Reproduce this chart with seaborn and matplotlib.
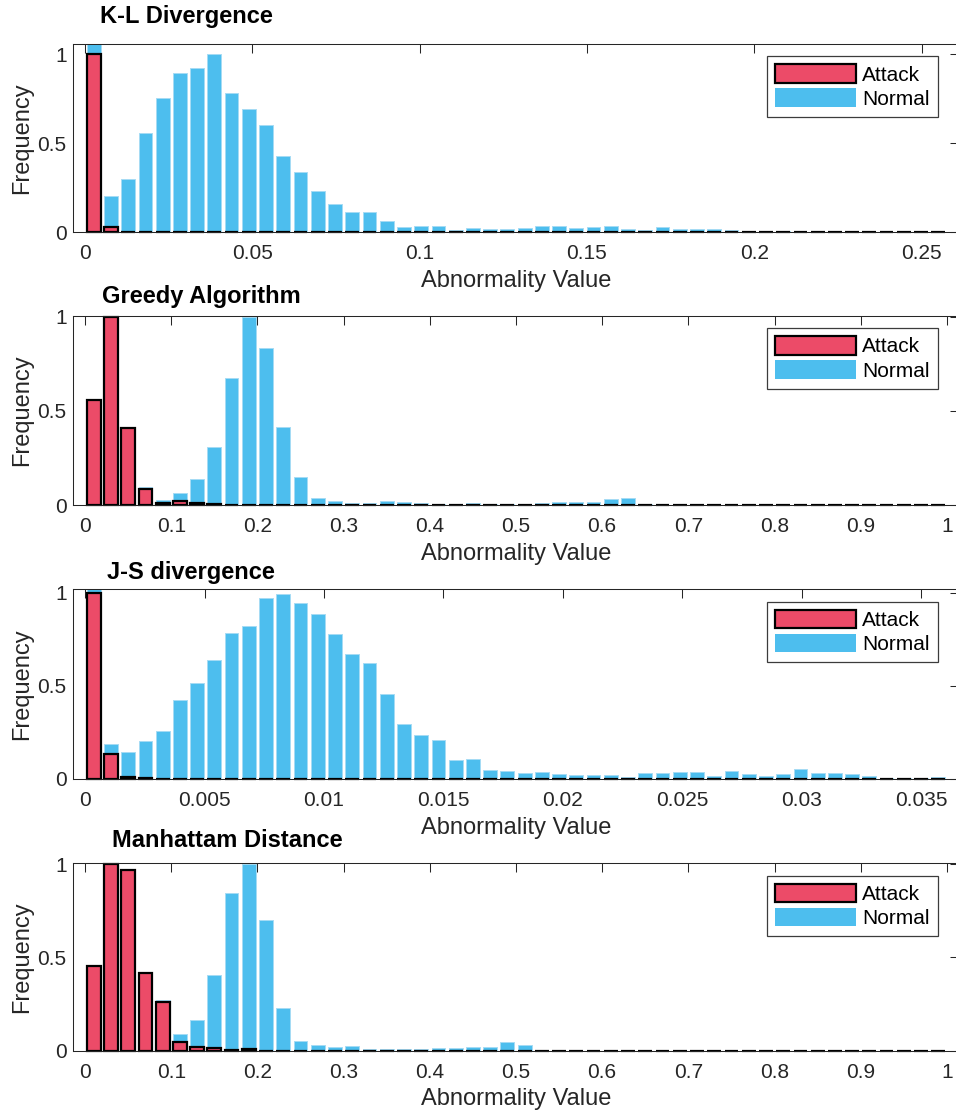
import numpy as np
import pandas as pd
import matplotlib
matplotlib.use("Agg")
import matplotlib.pyplot as plt
import seaborn as sns
from matplotlib.patches import Patch
from matplotlib.ticker import FuncFormatter, FixedLocator

# ---- histogram data (50 bins per panel, normalised frequency) ----
kl_span = 0.2576
kl_normal = [1.2, 0.205, 0.30, 0.556, 0.754, 0.897, 0.923, 1.0, 0.78, 0.69,
             0.603, 0.429, 0.335, 0.229, 0.156, 0.113, 0.111, 0.064, 0.03, 0.036,
             0.034, 0.011, 0.023, 0.017, 0.017, 0.024, 0.032, 0.036, 0.023, 0.026,
             0.034, 0.015, 0.009, 0.026, 0.015, 0.015, 0.015, 0.013, 0, 0,
             0.003, 0, 0, 0, 0, 0, 0, 0, 0, 0]
kl_attack = [1.0, 0.028] + [0] * 48

greedy_span = 1.0
greedy_normal = [0, 0, 0, 0.095, 0.028, 0.064, 0.138, 0.311, 0.675, 1.0,
                 0.834, 0.417, 0.152, 0.037, 0.021, 0.014, 0.012, 0.023, 0.016, 0.012,
                 0.005, 0.004, 0.01, 0.005, 0.005, 0.004, 0.01, 0.018, 0.018, 0.016,
                 0.034, 0.039, 0.005] + [0] * 17
greedy_attack = [0.557, 1.0, 0.41, 0.087, 0.014, 0.021, 0.012, 0.005] + [0] * 42

js_span = 0.03607
js_normal = [1.1, 0.19, 0.145, 0.204, 0.256, 0.423, 0.514, 0.636, 0.783, 0.823,
             0.973, 0.995, 0.946, 0.887, 0.78, 0.672, 0.625, 0.455, 0.297, 0.237,
             0.208, 0.104, 0.109, 0.048, 0.045, 0.034, 0.038, 0.027, 0.022, 0.022,
             0.022, 0.009, 0.03, 0.032, 0.039, 0.036, 0.018, 0.041, 0.029, 0.014,
             0.025, 0.054, 0.032, 0.032, 0.025, 0.014, 0.007, 0.007, 0.007, 0.009]
js_attack = [1.0, 0.134, 0.013, 0.005] + [0] * 46

man_span = 1.0
man_normal = [0, 0, 0, 0.424, 0.27, 0.088, 0.166, 0.404, 0.844, 1.0,
              0.701, 0.229, 0.054, 0.032, 0.021, 0.023, 0.009, 0.007, 0.007, 0.007,
              0.014, 0.014, 0.021, 0.02, 0.045, 0.029] + [0] * 24
man_attack = [0.453, 1.0, 0.97, 0.419, 0.26, 0.048, 0.02, 0.016, 0.005, 0.01] + [0] * 40

titles = ["K-L Divergence", "Greedy Algorithm", "J-S divergence", "Manhattam Distance"]
kl_ticks = [0, 0.05, 0.1, 0.15, 0.2, 0.25]
unit_ticks = [0, 0.1, 0.2, 0.3, 0.4, 0.5, 0.6, 0.7, 0.8, 0.9, 1.0]
js_ticks = [0, 0.005, 0.01, 0.015, 0.02, 0.025, 0.03, 0.035]
y_ticks = [0, 0.5, 1]
legend_labels = ["Attack", "Normal"]

ATTACK_COLOR = "#EC4B68"
NORMAL_COLOR = "#4DBEEE"
TEXT_COLOR = "#262626"

sns.set_theme(style="white")
plt.rcParams["font.family"] = ["Liberation Sans", "DejaVu Sans"]

W, H = 956, 1114
fig = plt.figure(figsize=(W / 100, H / 100), dpi=100)

layout = [
    # (axes top px, axes bottom px, y upper limit, title x px, title baseline px)
    (44.0, 232.0, 1.058, 100.0, 23.3),
    (315.7, 505.3, 1.005, 101.7, 303.3),
    (589.3, 779.0, 1.018, 106.7, 579.0),
    (863.3, 1050.7, 1.005, 111.7, 846.7),
]
panels = [
    (kl_span, kl_normal, kl_attack, kl_ticks),
    (greedy_span, greedy_normal, greedy_attack, unit_ticks),
    (js_span, js_normal, js_attack, js_ticks),
    (man_span, man_normal, man_attack, unit_ticks),
]

LEFT, RIGHT = 73.0, 959.0
fmt = FuncFormatter(lambda v, _: f"{round(v, 6):g}")

for (top, bot, ytop, tx, ty), (span, normal, attack, xt), title in zip(layout, panels, titles):
    ax = fig.add_axes([LEFT / W, 1 - bot / H, (RIGHT - LEFT) / W, (bot - top) / H])
    nbins = len(normal)
    edges = np.linspace(0, span, nbins + 1)
    centers = (edges[:-1] + edges[1:]) / 2
    df = pd.DataFrame({"value": centers, "normal": normal, "attack": attack})

    sns.histplot(data=df, x="value", weights="normal", bins=nbins, binrange=(0, span),
                 shrink=0.8, ax=ax, color=NORMAL_COLOR, alpha=1,
                 edgecolor="#A6DBF4", linewidth=0.7)
    sns.histplot(data=df, x="value", weights="attack", bins=nbins, binrange=(0, span),
                 shrink=0.8, ax=ax, color=ATTACK_COLOR, alpha=1,
                 edgecolor="black", linewidth=1.6, clip_on=False)

    ax.set_xlim(-0.014 * span, 1.014 * span)
    ax.set_ylim(0, ytop)
    ax.xaxis.set_major_locator(FixedLocator(xt))
    ax.yaxis.set_major_locator(FixedLocator(y_ticks))
    ax.xaxis.set_major_formatter(fmt)
    ax.yaxis.set_major_formatter(fmt)

    ax.tick_params(axis="both", direction="in", length=6.5, width=0.75,
                   top=True, right=True, labeltop=False, labelright=False,
                   colors=TEXT_COLOR, labelsize=15)
    ax.tick_params(axis="x", pad=8.5)
    ax.tick_params(axis="y", pad=4.5)
    for s in ax.spines.values():
        s.set_color(TEXT_COLOR)
        s.set_linewidth(0.75)

    ax.set_xlabel("Abnormality Value", fontsize=17, color=TEXT_COLOR, labelpad=5)
    ax.set_ylabel("Frequency", fontsize=17, color=TEXT_COLOR, labelpad=3.5)

    handles = [Patch(facecolor=ATTACK_COLOR, edgecolor="black", linewidth=1.6),
               Patch(facecolor=NORMAL_COLOR, edgecolor="none")]
    ax_w, ax_h = RIGHT - LEFT, bot - top
    leg = ax.legend(handles, legend_labels, loc="upper right",
                    bbox_to_anchor=(1 - 21.3 / ax_w, 1 - 12.3 / ax_h),
                    borderaxespad=0, fontsize=15, handlelength=3.9, handleheight=1.0,
                    handletextpad=0.3, labelspacing=0.18, borderpad=0.38,
                    fancybox=False, framealpha=1, edgecolor="#3C3C3C",
                    labelcolor="black")
    leg.get_frame().set_linewidth(0.9)

    fig.text(tx / W, 1 - ty / H, title, fontsize=17, fontweight="bold",
             color="black", ha="left", va="baseline")

fig.savefig("out.png", dpi=100)
